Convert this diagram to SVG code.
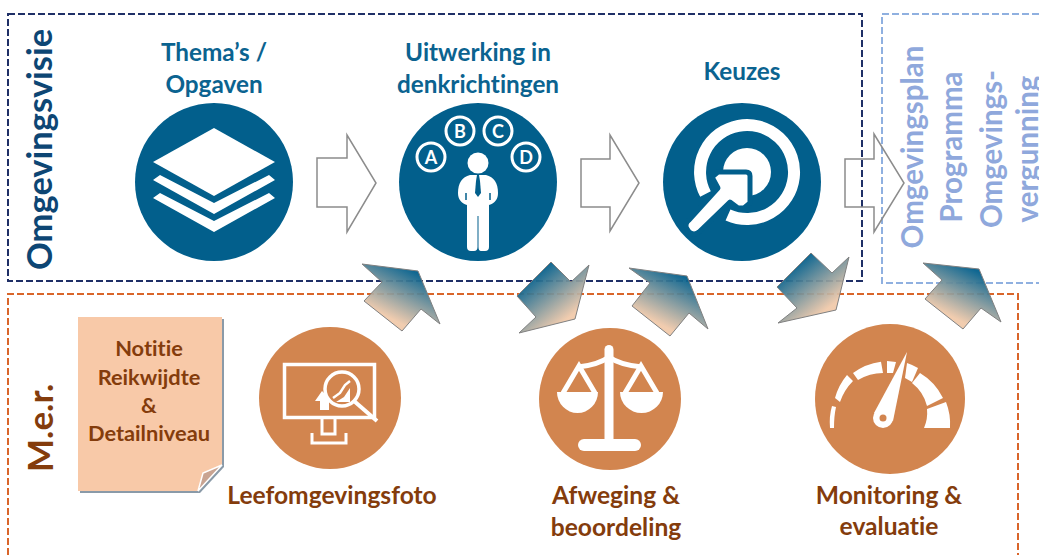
<svg xmlns="http://www.w3.org/2000/svg" width="1039" height="555" viewBox="0 0 1039 555">
<style>
text{font-family:"Lato","Open Sans","Liberation Sans",sans-serif;font-weight:700;font-variant-ligatures:none}
.bt{font-size:24.300px;fill:#0b6390;text-anchor:middle}
.ot{font-size:24.600px;fill:#843c0c;text-anchor:middle}
.nt{font-size:21.800px;fill:#843c0c;text-anchor:middle}
.lt{font-size:29.500px;fill:#8fa8dc;text-anchor:middle}
.ltr{font-size:18px;fill:#fff;text-anchor:middle}
.frame{fill:none;stroke-width:2;stroke-dasharray:7 3}
.blue{fill:#025f8c}
.orange{fill:#d2854f}
.w{fill:#fff}
.hollow{fill:none;stroke:#8c8c8c;stroke-width:1.500}
.grad{stroke:#808080;stroke-width:1}
</style>
<defs>
<linearGradient id="gUp" x1="0.75" y1="0.1" x2="0.25" y2="0.95">
<stop offset="0.05" stop-color="#025f8c" stop-opacity="0.95"/>
<stop offset="0.82" stop-color="#f0c8a8" stop-opacity="0.92"/>
</linearGradient>
<linearGradient id="gDown" x1="0.2" y1="0.15" x2="0.8" y2="0.9">
<stop offset="0.05" stop-color="#025f8c" stop-opacity="0.95"/>
<stop offset="0.85" stop-color="#f0c8a8" stop-opacity="0.92"/>
</linearGradient>
</defs>
<rect width="1039" height="555" fill="#fff"/>

<g id="frames">
<rect id="frame-visie" class="frame" x="8" y="14" width="854" height="267" stroke="#1f2f66"/>
<path id="frame-plan" class="frame" d="M1039,14H882V283H1039" stroke="#8fb0e0"/>
<path id="frame-mer" class="frame" d="M8,555V294H1018V555" stroke="#d9652a"/>
</g>

<g id="title-visie"><text transform="translate(52,270) rotate(-90)" style="font-size:34.500px;fill:#0d4674">Omgevingsvisie</text></g>
<g id="title-mer"><text transform="translate(53,472) rotate(-90)" style="font-size:35px;fill:#843c0c">M.e.r.</text></g>

<g id="node-plan">
<text class="lt" transform="translate(923,147) rotate(-90)">Omgevingsplan</text>
<text class="lt" transform="translate(962,147) rotate(-90)">Programma</text>
<text class="lt" transform="translate(1002,149) rotate(-90)">Omgevings-</text>
<text class="lt" transform="translate(1038,149) rotate(-90)">vergunning</text>
</g>

<g id="node-themas">
<text class="bt" x="214" y="61">Thema’s /</text>
<text class="bt" x="214" y="93">Opgaven</text>
<circle class="blue" cx="214" cy="182" r="79"/>
<polygon class="w" points="214,128 275,162 214,196 153,162"/>
<polygon class="w" points="160,175 214,203 269,175 275,180 214,214 153,180"/>
<polygon class="w" points="160,193 214,221 269,193 275,198 214,232 153,198"/>
</g>

<g id="node-uitwerking">
<text class="bt" x="478" y="61">Uitwerking in</text>
<text class="bt" x="478" y="93">denkrichtingen</text>
<circle class="blue" cx="478" cy="182" r="79"/>
<g fill="none" stroke="#fff" stroke-width="3">
<circle cx="431" cy="157" r="14"/><circle cx="460" cy="131" r="14"/><circle cx="498" cy="131" r="14"/><circle cx="526" cy="157" r="14"/>
</g>
<text class="ltr" x="431" y="163.500">A</text><text class="ltr" x="460" y="137.500">B</text><text class="ltr" x="498" y="137.500">C</text><text class="ltr" x="526" y="163.500">D</text>
<circle class="w" cx="478" cy="163" r="10.500"/>
<path class="w" d="M470,175H486C494,177 498,183 498,193C498,199 495,203 489,205V247Q489,251 485,251H481Q478.500,251 478.500,247V216H477.500V247Q477.500,251 474,251H471Q467,251 467,247V205C461,203 458,199 458,193C458,183 462,177 470,175Z"/>
<path class="blue" d="M477,175H479L480,181L481,193L478,197L475,193L476,181Z"/>
<path d="M466,193V200M490,193V200" stroke="#025f8c" stroke-width="1.500" fill="none"/>
</g>

<g id="node-keuzes">
<text class="bt" x="742" y="80">Keuzes</text>
<circle class="blue" cx="742" cy="182" r="79"/>
<path d="M728,215A47,47 0 1 0 705.500,194" fill="none" stroke="#fff" stroke-width="12"/>
<circle class="w" cx="747" cy="172" r="24"/>
<path class="w" stroke="#025f8c" stroke-width="5" stroke-linejoin="round" d="M712,177L718,172H746Q750,172 750,176V203L744,208H738L730,202L699,232Q694,236 689,232L687,229Q684,224 689,220L718,188Z"/>
</g>

<g id="node-note">
<polygon points="80,319 224,319 224,467 200,493 80,493" fill="#8a9aa8"/>
<polygon points="78,317 222,317 222,465 198,491 78,491" fill="#f8c9a8"/>
<polygon points="222,465 198,491 203,473" fill="#c9a492" stroke="#fff" stroke-width="1.500"/>
<text class="nt" x="149" y="356">Notitie</text>
<text class="nt" x="149" y="385">Reikwijdte</text>
<text class="nt" x="149" y="413">&amp;</text>
<text class="nt" x="149" y="441">Detailniveau</text>
</g>

<g id="node-leefomgevingsfoto">
<circle class="orange" cx="330" cy="398" r="71"/>
<rect x="284.500" y="364.500" width="90" height="53" fill="none" stroke="#fff" stroke-width="3.500"/>
<path d="M322,418V434H335V418M312,433V443H346V433" fill="none" stroke="#fff" stroke-width="3"/>
<path d="M315,401L322,391L332,401L329,401V410H320V401Z" fill="#fff"/>
<circle cx="342" cy="389" r="17" fill="#d2854f" stroke="#fff" stroke-width="3.500"/>
<path d="M354,401L377,421" stroke="#fff" stroke-width="4" fill="none"/>
<path d="M333,398L340,393L345,385L350,381" stroke="#fff" stroke-width="2.500" fill="none"/>
<path d="M336,402L344,397L350,388V402Z" fill="#fff"/>
</g>

<g id="node-afweging">
<circle class="orange" cx="610" cy="399" r="71"/>
<path class="w" d="M604.500,349.500a4.500,4.500 0 0 1 9,0V445h-9Z"/>
<rect class="w" x="578" y="439" width="63" height="12" rx="6"/>
<path d="M578,367Q598,365 609,357Q620,365 642,367" fill="none" stroke="#fff" stroke-width="5"/>
<path class="w" d="M557,392H598A20.500,21 0 0 1 557,392Z"/>
<path class="w" d="M620,392H663A21.500,21 0 0 1 620,392Z"/>
<path d="M563,393L579,366L595,393M625,393L641,366L657,393" fill="none" stroke="#fff" stroke-width="5"/>
</g>

<g id="node-monitoring">
<circle class="orange" cx="890" cy="399" r="75"/>
<path class="w" d="M830,428H834Q834,416 836,407L832,406Q829,416 830,428Z"/>
<path class="w" d="M835,398A60,60 0 0 1 847,375L853,381A55,55 0 0 0 840,402Z"/>
<path class="w" d="M853,373A60,60 0 0 1 881,361.700L883,373A50,50 0 0 0 858,380Z"/>
<polygon class="w" points="887,361 896,362 893,373 887,373"/>
<path class="w" d="M907,363A60,60 0 0 1 918,368L912,382L905,378Z"/>
<path class="w" d="M920,373A60,60 0 0 1 943,398L927,406A42,42 0 0 0 912,383Z"/>
<path class="w" d="M924,428H950A60,60 0 0 0 946,402L927,409A38,38 0 0 1 924,428Z"/>
<polygon points="907,352 893,421 874,413" fill="#d2854f" stroke="#d2854f" stroke-width="3"/>
<polygon class="w" points="907,352 893,421 874,413"/>
<circle class="w" cx="883" cy="418" r="10"/>
<circle class="orange" cx="883" cy="418" r="3.500"/>
</g>

<g id="labels-mer">
<text class="ot" x="332" y="504">Leefomgevingsfoto</text>
<text class="ot" x="616" y="504">Afweging &amp;</text>
<text class="ot" x="616" y="536">beoordeling</text>
<text class="ot" x="889" y="504">Monitoring &amp;</text>
<text class="ot" x="889" y="535">evaluatie</text>
</g>

<g id="connectors">
<polygon class="hollow" points="317,158 347,158 347,135 376,183 347,232 347,207 317,207"/>
<polygon class="hollow" points="581,159 610,159 610,135 639,183 610,231 610,207 581,207"/>
<polygon class="hollow" points="845,159 874,159 874,134 904,183 874,232 874,207 845,207"/>
<polygon class="grad" fill="url(#gUp)" points="362,264 418,271 440,324 421,309 402,331 364,301 382,282"/>
<polygon class="grad" fill="url(#gDown)" points="551,262 571,282 589,265 575,319 519,333 536,317 517,296"/>
<polygon class="grad" fill="url(#gUp)" points="629,268 687,276 708,329 689,313 670,336 632,306 650,283"/>
<polygon class="grad" fill="url(#gDown)" points="811,253 832,273 849,257 836,310 778,323 797,308 777,287"/>
<polygon class="grad" fill="url(#gUp)" points="923,263 979,269 1001,322 981,308 963,329 925,299 942,280"/>
</g>
</svg>
